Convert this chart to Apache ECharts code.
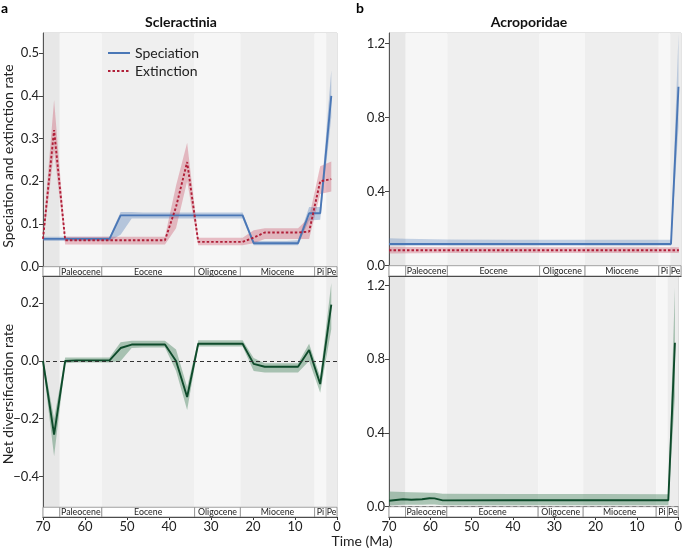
<!DOCTYPE html>
<html>
<head>
<meta charset="utf-8">
<script src="https://cdn.jsdelivr.net/npm/echarts@6/dist/echarts.min.js"></script>
<style>
  html, body { margin: 0; padding: 0; background: #fff; }
  #chart { width: 685px; height: 552px; }
</style>
</head>
<body>
<div id="chart"></div>
<script>
// geological epochs (Ma)
const epochStart = [70, 66, 56, 33.9, 23, 5.33, 2.58];
const epochEnd = [66, 56, 33.9, 23, 5.33, 2.58, 0];
const epochNames = ['', 'Paleocene', 'Eocene', 'Oligocene', 'Miocene', 'Pi', 'Pe'];
const epochShades = ['#e7e7e7', '#f6f6f6', '#efefef', '#f6f6f6', '#eeeeee', '#f7f7f7', '#ececec'];

// Scleractinia
const timeA = [70, 67.36, 64.72, 62.08, 59.44, 56.8, 54.16, 51.52, 48.88, 46.24, 43.6, 40.96, 38.32, 35.68, 33.04, 30.4, 27.76, 25.12, 22.48, 19.84, 17.2, 14.56, 11.92, 9.28, 6.64, 4.0, 1.36];
const specA = [0.065, 0.065, 0.065, 0.065, 0.065, 0.065, 0.065, 0.12, 0.12, 0.12, 0.12, 0.12, 0.12, 0.12, 0.12, 0.12, 0.12, 0.12, 0.12, 0.055, 0.055, 0.055, 0.055, 0.055, 0.125, 0.125, 0.40];
const specALo = [0.06, 0.06, 0.06, 0.06, 0.06, 0.06, 0.06, 0.075, 0.113, 0.113, 0.113, 0.113, 0.113, 0.113, 0.113, 0.113, 0.113, 0.113, 0.113, 0.05, 0.05, 0.05, 0.05, 0.05, 0.108, 0.11, 0.35];
const specAHi = [0.07, 0.07, 0.07, 0.07, 0.07, 0.07, 0.07, 0.128, 0.128, 0.127, 0.127, 0.127, 0.127, 0.127, 0.127, 0.127, 0.127, 0.127, 0.127, 0.06, 0.06, 0.06, 0.06, 0.062, 0.14, 0.14, 0.46];
const extA = [0.065, 0.32, 0.062, 0.062, 0.062, 0.062, 0.062, 0.062, 0.062, 0.062, 0.062, 0.062, 0.14, 0.245, 0.058, 0.058, 0.058, 0.058, 0.058, 0.068, 0.08, 0.08, 0.08, 0.08, 0.082, 0.2, 0.205];
const extALo = [0.055, 0.27, 0.052, 0.052, 0.052, 0.052, 0.052, 0.052, 0.052, 0.052, 0.052, 0.052, 0.09, 0.2, 0.05, 0.05, 0.05, 0.05, 0.05, 0.055, 0.065, 0.065, 0.065, 0.065, 0.065, 0.17, 0.176];
const extAHi = [0.075, 0.39, 0.07, 0.07, 0.07, 0.07, 0.07, 0.07, 0.07, 0.07, 0.07, 0.07, 0.19, 0.29, 0.068, 0.068, 0.068, 0.068, 0.068, 0.085, 0.09, 0.09, 0.09, 0.09, 0.115, 0.235, 0.246];
const netA = [0.0, -0.255, 0.0, 0.002, 0.002, 0.002, 0.002, 0.045, 0.057, 0.057, 0.057, 0.057, 0.0, -0.125, 0.06, 0.06, 0.06, 0.06, 0.06, -0.01, -0.02, -0.02, -0.02, -0.02, 0.038, -0.08, 0.195];
const netALo = [-0.01, -0.33, -0.008, -0.005, -0.005, -0.005, -0.005, 0.0, 0.045, 0.047, 0.047, 0.047, -0.035, -0.17, 0.05, 0.05, 0.05, 0.05, 0.05, -0.035, -0.04, -0.04, -0.04, -0.04, 0.0, -0.11, 0.11];
const netAHi = [0.01, -0.2, 0.012, 0.012, 0.012, 0.012, 0.012, 0.065, 0.07, 0.07, 0.07, 0.07, 0.04, -0.09, 0.072, 0.072, 0.072, 0.072, 0.072, 0.01, -0.008, -0.008, -0.008, -0.008, 0.06, -0.055, 0.27];

// Acroporidae
const timeBs = [70, 66, 56, 40, 20, 5, 2.4, 0.6];
const specB = [0.117, 0.117, 0.117, 0.117, 0.117, 0.117, 0.117, 0.966];
const specBLo = [0.108, 0.108, 0.108, 0.108, 0.108, 0.108, 0.108, 0.75];
const specBHi = [0.148, 0.146, 0.142, 0.14, 0.14, 0.14, 0.14, 1.25];
const timeBe = [70, 56, 0.5];
const extB = [0.083, 0.083, 0.083];
const extBLo = [0.066, 0.068, 0.068];
const extBHi = [0.102, 0.1, 0.1];
const timeBn = [70, 66.6, 64.6, 62, 60.2, 59, 57, 40, 20, 2.4, 0.8];
const netB = [0.032, 0.04, 0.038, 0.04, 0.046, 0.045, 0.034, 0.035, 0.035, 0.035, 0.89];
const netBLo = [0.006, 0.01, 0.01, 0.01, 0.012, 0.012, 0.008, 0.008, 0.008, 0.008, 0.6];
const netBHi = [0.082, 0.08, 0.078, 0.077, 0.076, 0.075, 0.07, 0.069, 0.069, 0.068, 1.19];

const ticksA1 = [0, 0.1, 0.2, 0.3, 0.4, 0.5];
const ticksA2 = [-0.4, -0.2, 0, 0.2];
const ticksB = [0, 0.4, 0.8, 1.2];

const FONT = 'Lato, "Open Sans", sans-serif';
const BLUE = '#4a77b6', RED = '#b01f38', GREEN = '#0e4b2b';

// panel setup: grid box, y range, where the epoch strip starts
const panels = [
  { left: 43, top: 33, width: 294, height: 243, min: -0.0218, max: 0.547, strip: 0, ticks: ticksA1, xlab: false },
  { left: 43, top: 276, width: 294, height: 241, min: -0.5407, max: 0.2946, strip: -0.507, ticks: ticksA2, xlab: true },
  { left: 389, top: 33, width: 292, height: 243, min: -0.0556, max: 1.256, strip: 0, ticks: ticksB, xlab: false },
  { left: 389, top: 276, width: 292, height: 241, min: -0.056, max: 1.252, strip: 0, ticks: ticksB, xlab: true }
];

const fmt = v => (v < 0 ? '\u2212' : '') + Math.abs(v).toFixed(1);

const grids = panels.map(p => ({
  left: p.left, top: p.top, width: p.width, height: p.height,
  show: true, borderColor: '#c9c9c9', borderWidth: 1, backgroundColor: 'transparent'
}));

const xAxes = panels.map((p, i) => ({
  type: 'value', gridIndex: i, min: 0, max: 70, interval: 10, inverse: true,
  axisLine: { show: true, onZero: false, lineStyle: { color: '#222', width: 1.2 } },
  axisTick: { show: p.xlab, length: 3, lineStyle: { color: '#333' } },
  axisLabel: { show: p.xlab, fontSize: 13, color: '#222', fontFamily: FONT, margin: 3 },
  splitLine: { show: false }
}));

const yAxes = panels.map((p, i) => ({
  type: 'value', gridIndex: i, min: p.min, max: p.max,
  axisLine: { show: true, onZero: false, lineStyle: { color: '#555' } },
  axisTick: { show: true, length: 4, customValues: p.ticks, lineStyle: { color: '#444' } },
  axisLabel: { show: true, customValues: p.ticks, formatter: fmt, fontSize: 13, color: '#222', fontFamily: FONT, margin: 4 },
  splitLine: { show: false }
}));

function bgSeries(gi) {
  const p = panels[gi];
  return {
    type: 'custom', xAxisIndex: gi, yAxisIndex: gi, z: 0, silent: true, clip: true,
    data: epochStart.map((s, i) => [s, epochEnd[i], i]),
    renderItem: function (params, api) {
      const a = api.coord([api.value(0), p.max]);
      const b = api.coord([api.value(1), p.strip]);
      return { type: 'rect', shape: { x: a[0], y: a[1], width: b[0] - a[0], height: b[1] - a[1] },
        style: { fill: epochShades[api.value(2)] } };
    }
  };
}

function stripSeries(gi) {
  const p = panels[gi];
  return {
    type: 'custom', xAxisIndex: gi, yAxisIndex: gi, z: 10, silent: true, clip: false,
    data: epochStart.map((s, i) => [s, epochEnd[i], i]),
    renderItem: function (params, api) {
      const a = api.coord([api.value(0), p.strip]);
      const b = api.coord([api.value(1), p.min]);
      return { type: 'group', children: [
        { type: 'rect', shape: { x: a[0], y: a[1], width: b[0] - a[0], height: b[1] - a[1] },
          style: { fill: '#fff', stroke: '#8a8a8a', lineWidth: 0.8 } },
        { type: 'text', style: { text: epochNames[api.value(2)], x: (a[0] + b[0]) / 2, y: (a[1] + b[1]) / 2 + 0.5,
          align: 'center', verticalAlign: 'middle', fontSize: 8.8, fontFamily: FONT, fill: '#222' } }
      ] };
    }
  };
}

function bandSeries(gi, times, lo, hi, color) {
  return {
    type: 'custom', xAxisIndex: gi, yAxisIndex: gi, z: 2, silent: true, clip: true,
    data: [[times[0], lo[0]]],
    renderItem: function (params, api) {
      const pts = [];
      times.forEach((t, i) => pts.push(api.coord([t, hi[i]])));
      for (let i = times.length - 1; i >= 0; i--) pts.push(api.coord([times[i], lo[i]]));
      return { type: 'polygon', shape: { points: pts }, style: { fill: color } };
    }
  };
}

function lineSeries(gi, name, times, vals, color, dash) {
  return {
    type: 'line', name: name, xAxisIndex: gi, yAxisIndex: gi, z: 4,
    data: times.map((t, i) => [t, vals[i]]),
    symbol: 'none', showSymbol: false, silent: true, animation: false,
    lineStyle: { color: color, width: 1.9, type: dash || 'solid' },
    itemStyle: { color: color }
  };
}

const zeroLine = gi => ({
  type: 'line', xAxisIndex: gi, yAxisIndex: gi, data: [], z: 5, silent: true,
  markLine: { silent: true, symbol: 'none', label: { show: false },
    lineStyle: { color: '#333', type: [4, 3], width: 1 }, data: [{ yAxis: 0 }] }
});

const series = [
  bgSeries(0), bgSeries(1), bgSeries(2), bgSeries(3),
  bandSeries(0, timeA, specALo, specAHi, 'rgba(74,119,182,0.35)'),
  bandSeries(0, timeA, extALo, extAHi, 'rgba(200,70,95,0.33)'),
  lineSeries(0, 'Speciation', timeA, specA, BLUE),
  lineSeries(0, 'Extinction', timeA, extA, RED, [2.5, 2]),
  bandSeries(1, timeA, netALo, netAHi, 'rgba(60,125,85,0.4)'),
  zeroLine(1),
  lineSeries(1, 'Net', timeA, netA, GREEN),
  bandSeries(2, timeBs, specBLo, specBHi, 'rgba(74,119,182,0.3)'),
  bandSeries(2, timeBe, extBLo, extBHi, 'rgba(200,70,95,0.33)'),
  lineSeries(2, 'SpeciationB', timeBs, specB, BLUE),
  lineSeries(2, 'ExtinctionB', timeBe, extB, RED, [2.5, 2]),
  bandSeries(3, timeBn, netBLo, netBHi, 'rgba(60,125,85,0.4)'),
  zeroLine(3),
  lineSeries(3, 'NetB', timeBn, netB, GREEN),
  stripSeries(0), stripSeries(1), stripSeries(2), stripSeries(3)
];

const chart = echarts.init(document.getElementById('chart'), null, { renderer: 'canvas' });
chart.setOption({
  animation: false,
  backgroundColor: '#fff',
  textStyle: { fontFamily: FONT },
  grid: grids,
  xAxis: xAxes,
  yAxis: yAxes,
  legend: {
    data: ['Speciation', 'Extinction'], orient: 'vertical', left: 102, top: 41,
    itemWidth: 22, itemHeight: 12, itemGap: 4, selectedMode: false,
    itemStyle: { opacity: 0 },
    textStyle: { fontSize: 14, color: '#222', fontFamily: FONT }
  },
  graphic: [
    { type: 'text', left: 1, top: 1, style: { text: 'a', font: 'bold 14px ' + FONT, fill: '#000' } },
    { type: 'text', left: 356, top: 1, style: { text: 'b', font: 'bold 14px ' + FONT, fill: '#000' } },
    { type: 'text', x: 181, y: 22, style: { text: 'Scleractinia', font: 'bold 14px ' + FONT, fill: '#111', align: 'center', verticalAlign: 'middle' } },
    { type: 'text', x: 529, y: 22, style: { text: 'Acroporidae', font: 'bold 14px ' + FONT, fill: '#111', align: 'center', verticalAlign: 'middle' } },
    { type: 'text', x: 8, y: 156, rotation: Math.PI / 2, style: { text: 'Speciation and extinction rate', font: '14px ' + FONT, fill: '#222', align: 'center', verticalAlign: 'middle' } },
    { type: 'text', x: 8, y: 394, rotation: Math.PI / 2, style: { text: 'Net diversification rate', font: '14px ' + FONT, fill: '#222', align: 'center', verticalAlign: 'middle' } },
    { type: 'text', x: 362, y: 541, style: { text: 'Time (Ma)', font: '14px ' + FONT, fill: '#222', align: 'center', verticalAlign: 'middle' } }
  ],
  series: series
});
</script>
</body>
</html>
